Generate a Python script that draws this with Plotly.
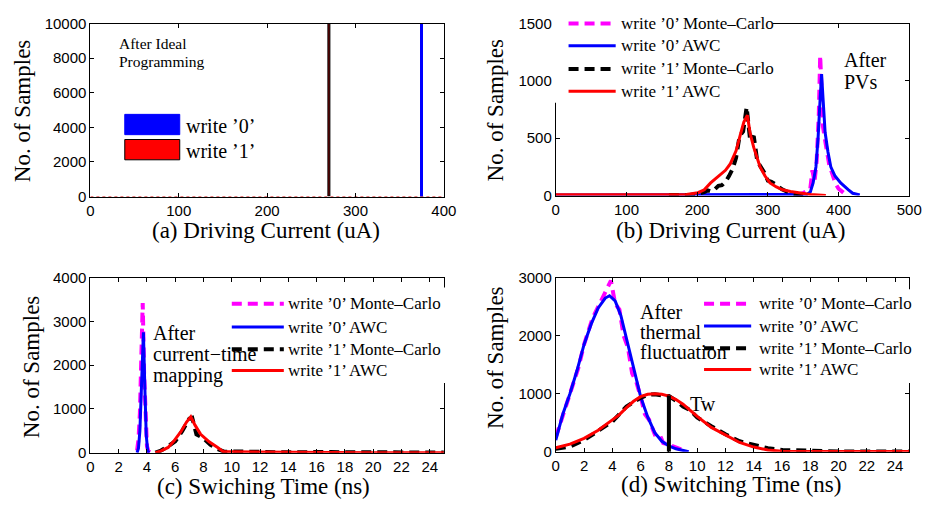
import plotly.graph_objects as go

W, H = 936, 510
SERIF = "Liberation Serif"
SANS = "Liberation Sans"

# ---------------- data ----------------
# (a) after ideal programming: histogram spikes
a_write0_x = [375]
a_write0_count = [10000]
a_write1_x = [270]
a_write1_count = [10000]
a_zero_x = [0, 400]
a_zero_y = [0, 0]

# (b) after PVs (driving current, uA)
b_mc0_x = [340, 345, 350, 355, 360, 363, 366, 369, 372, 374, 376, 378, 381, 384, 387, 390, 393, 396, 400, 405, 410]
b_mc0_y = [5, 10, 20, 40, 60, 220, 120, 300, 700, 1220, 900, 600, 480, 350, 260, 210, 150, 100, 60, 30, 10]
b_awc0_x = [0, 100, 200, 300, 340, 355, 360, 364, 368, 371, 374, 376, 378, 381, 385, 389, 395, 403, 414, 420, 430]
b_awc0_y = [5, 5, 5, 5, 5, 10, 30, 110, 250, 500, 850, 1060, 850, 550, 380, 250, 170, 110, 50, 20, 5]
b_mc1_x = [160, 170, 180, 190, 200, 205, 210, 215, 220, 225, 230, 235, 240, 245, 250, 255, 260, 265, 270, 275, 280, 285, 290, 295, 300, 305, 310, 315, 320, 325, 330, 335, 340, 345, 350]
b_mc1_y = [5, 3, 8, 5, 15, 20, 30, 45, 35, 55, 85, 90, 120, 170, 230, 330, 520, 560, 770, 480, 520, 300, 250, 200, 130, 120, 100, 75, 55, 40, 25, 15, 10, 5, 2]
b_awc1_x = [0, 100, 150, 185, 201, 210, 219, 230, 240, 247, 255, 261, 266, 271, 275, 280, 289, 296, 303, 312, 321, 332, 344, 360, 382]
b_awc1_y = [8, 8, 8, 10, 25, 50, 110, 170, 220, 278, 390, 530, 640, 700, 540, 420, 250, 170, 110, 75, 50, 35, 25, 10, 0]

# (c) after current-time mapping (switching time, ns)
c_mc0_x = [3.3, 3.4, 3.5, 3.6, 3.7, 3.8, 3.9, 4.0, 4.1, 4.2, 4.3]
c_mc0_y = [50, 300, 900, 2000, 3420, 1800, 600, 150, 30, 10, 0]
c_awc0_x = [3.3, 3.4, 3.5, 3.6, 3.75, 3.85, 3.95, 4.05, 4.15]
c_awc0_y = [0, 100, 500, 1600, 2750, 1500, 400, 50, 0]
c_mc1_x = [4.6, 5.0, 5.5, 6.0, 6.5, 7.0, 7.2, 7.5, 8.0, 8.5, 9.0, 9.5, 10, 11, 12, 13, 14, 15, 16, 17, 18, 19, 20, 21, 22, 23, 24, 25]
c_mc1_y = [0, 50, 150, 260, 500, 780, 800, 420, 330, 180, 80, 20, 30, 15, 20, 10, 15, 10, 10, 15, 10, 10, 15, 10, 10, 15, 10, 5]
c_awc1_x = [4.6, 5.0, 5.5, 5.9, 6.4, 6.8, 7.1, 7.4, 7.8, 8.4, 9.0, 9.4, 10, 12, 15, 15.3, 20, 25]
c_awc1_y = [0, 40, 120, 265, 480, 700, 820, 630, 420, 250, 120, 25, 20, 15, 15, 0, 0, 0]

# (d) after thermal fluctuation (switching time, ns)
d_mc0_x = [0, 0.3, 0.6, 1.0, 1.3, 1.6, 2.0, 2.3, 2.6, 3.0, 3.3, 3.6, 3.9, 4.2, 4.5, 4.8, 5.1, 5.4, 5.7, 6.0, 6.3, 6.6, 7.0, 7.3, 7.6, 8.0, 8.4, 8.8, 9.2]
d_mc0_y = [250, 450, 700, 1000, 1250, 1450, 1850, 2050, 2300, 2500, 2650, 2800, 2950, 2550, 2450, 2000, 1800, 1350, 1200, 950, 650, 550, 300, 320, 150, 120, 80, 40, 10]
d_awc0_x = [0, 0.5, 1.0, 1.5, 2.0, 2.5, 3.0, 3.5, 3.8, 4.2, 4.6, 5.0, 5.5, 6.0, 6.5, 7.0, 7.5, 8.0, 8.5, 9.0, 9.4]
d_awc0_y = [200, 650, 1000, 1400, 1850, 2200, 2480, 2650, 2690, 2600, 2350, 1950, 1450, 950, 600, 330, 180, 100, 50, 20, 0]
d_mc1_x = [0, 1, 2, 3, 4, 5, 6, 6.5, 7, 7.5, 8, 8.5, 9, 9.5, 10, 11, 12, 13, 14, 15, 16, 17, 18, 19, 20, 21, 22, 23, 24, 25]
d_mc1_y = [50, 90, 200, 350, 520, 780, 930, 980, 990, 970, 960, 880, 780, 720, 590, 440, 300, 180, 120, 60, 30, 20, 10, 10, 5, 5, 5, 0, 5, 5]
d_awc1_x = [0, 1, 2, 3, 4, 4.5, 5, 5.5, 6, 6.5, 7, 7.5, 8, 8.5, 9, 9.5, 10, 11, 12, 13, 14, 15, 16, 18, 20, 22, 25]
d_awc1_y = [70, 130, 230, 370, 550, 640, 760, 870, 950, 990, 1000, 990, 960, 900, 820, 710, 610, 420, 290, 160, 80, 30, 10, 5, 5, 5, 5]
tw_x = [8, 8]
tw_y = [0, 970]

legend_labels = ["write \u20190\u2019 Monte\u2013Carlo", "write \u20190\u2019 AWC",
                 "write \u20191\u2019 Monte\u2013Carlo", "write \u20191\u2019 AWC"]

# ---------------- helpers ----------------
def px(x):
    return x / W

def py(y):
    return 1 - y / H

MAG = dict(color="#ff00ff", width=4, dash="10px,6px")
BLU = dict(color="#0000ff", width=3)
BLK = dict(color="black", width=4, dash="10px,6px")
RED = dict(color="#ff0000", width=3)
styles = [MAG, BLU, BLK, RED]

fig = go.Figure()

# (a)
fig.add_trace(go.Scatter(x=a_zero_x, y=a_zero_y, mode="lines", xaxis="x", yaxis="y",
                         line=dict(color="#cc0000", width=1, dash="dot"), showlegend=False))
fig.add_trace(go.Bar(x=a_write1_x, y=a_write1_count, width=2.2, xaxis="x", yaxis="y",
                     marker=dict(color="#7a0000", line=dict(color="black", width=1)), showlegend=False))
fig.add_trace(go.Bar(x=a_write0_x, y=a_write0_count, width=3, xaxis="x", yaxis="y",
                     marker=dict(color="#0000ff", line=dict(width=0)), showlegend=False))

def add_panel(ax, ay, series):
    for (xs, ys), st in zip(series, styles):
        fig.add_trace(go.Scatter(x=xs, y=ys, mode="lines", xaxis=ax, yaxis=ay,
                                 line=st, showlegend=False))

add_panel("x2", "y2", [(b_mc0_x, b_mc0_y), (b_awc0_x, b_awc0_y), (b_mc1_x, b_mc1_y), (b_awc1_x, b_awc1_y)])
add_panel("x3", "y3", [(c_mc0_x, c_mc0_y), (c_awc0_x, c_awc0_y), (c_mc1_x, c_mc1_y), (c_awc1_x, c_awc1_y)])
add_panel("x4", "y4", [(d_mc0_x, d_mc0_y), (d_awc0_x, d_awc0_y), (d_mc1_x, d_mc1_y), (d_awc1_x, d_awc1_y)])
fig.add_trace(go.Scatter(x=tw_x, y=tw_y, mode="lines", xaxis="x4", yaxis="y4",
                         line=dict(color="black", width=4), showlegend=False))

def axis(domain, rng, dtick, anchor):
    return dict(domain=domain, range=rng, dtick=dtick, tick0=0, anchor=anchor,
                showline=True, linecolor="black", linewidth=1, mirror="ticks",
                ticks="inside", ticklen=4, tickcolor="black", tickwidth=1,
                showgrid=False, zeroline=False, tickformat="d",
                tickfont=dict(family=SANS, size=15, color="black"), fixedrange=True)

fig.update_layout(
    width=W, height=H, margin=dict(l=0, r=0, t=0, b=0),
    paper_bgcolor="white", plot_bgcolor="white", showlegend=False, bargap=0,
    xaxis=axis([px(88), px(448)], [0, 400], 100, "y"),
    yaxis=axis([py(194), py(15)], [0, 10000], 2000, "x"),
    xaxis2=axis([px(562), px(922)], [0, 500], 100, "y2"),
    yaxis2=axis([py(193), py(15)], [0, 1500], 500, "x2"),
    xaxis3=axis([px(88), px(448)], [0, 25], 2, "y3"),
    yaxis3=axis([py(459), py(278)], [0, 4000], 1000, "x3"),
    xaxis4=axis([px(562), px(922)], [0, 25], 2, "y4"),
    yaxis4=axis([py(458), py(278)], [0, 3000], 1000, "x4"),
)

shapes = []
annotations = []

def text(x, y, s, size, anchor="left", angle=0):
    annotations.append(dict(x=px(x), y=py(y), xref="paper", yref="paper", text=s,
                            showarrow=False, xanchor=anchor, yanchor="middle", textangle=angle,
                            borderpad=0,
                            font=dict(family=SERIF, size=size, color="black")))

# axis titles
text(267, 229, "(a) Driving Current (uA)", 23, "center")
text(740, 229, "(b) Driving Current (uA)", 23, "center")
text(264, 494, "(c) Swiching Time (ns)", 23, "center")
text(740, 492, "(d) Switching Time (ns)", 23, "center")
text(19, 105, "No. of Samples", 23, "center", -90)
text(501, 104, "No. of Samples", 23, "center", -90)
text(28, 370, "No. of Samples", 23, "center", -90)
text(500, 360, "No. of Samples", 23, "center", -90)

# panel annotations
text(116, 36, "After Ideal", 15.5)
text(116, 54, "Programming", 15.5)
text(855, 53, "After", 20)
text(855, 76, "PVs", 20)
text(151, 335, "After", 20)
text(151, 357, "current\u2212time", 20)
text(151, 379, "mapping", 20)
text(647, 313, "After", 20)
text(647, 334, "thermal", 20)
text(647, 355, "fluctuation", 20)
annotations.append(dict(x=9.4, y=830, xref="x4", yref="y4", text="Tw", showarrow=False,
                        xanchor="left", yanchor="middle", borderpad=0,
                        font=dict(family=SERIF, size=20, color="black")))

# legend (a)
shapes.append(dict(type="rect", xref="paper", yref="paper", x0=px(123), x1=px(179), y0=py(130), y1=py(109),
                   fillcolor="#0000ff", line=dict(color="#0000ff", width=1), layer="above"))
shapes.append(dict(type="rect", xref="paper", yref="paper", x0=px(123), x1=px(179), y0=py(156), y1=py(135),
                   fillcolor="#ff0000", line=dict(color="black", width=1), layer="above"))
text(184, 121, "write \u20190\u2019", 20)
text(184, 147, "write \u20191\u2019", 20)

# legends (b), (c), (d)
def legend(box, rows, lx0, lx1, tx):
    shapes.append(dict(type="rect", xref="paper", yref="paper", x0=px(box[0]), x1=px(box[1]),
                       y0=py(box[3]), y1=py(box[2]), fillcolor="white", line=dict(width=0), layer="above"))
    for yy, st, lab in zip(rows, styles, legend_labels):
        shapes.append(dict(type="line", xref="paper", yref="paper", x0=px(lx0), x1=px(lx1),
                           y0=py(yy), y1=py(yy), line=st, layer="above"))
        text(tx, yy, lab, 17)

legend((561, 783, 3, 97), [15, 38, 62, 85], 575, 623, 627)
legend((228, 456, 288, 387), [305, 329, 352, 374], 232, 285, 288)
legend((705, 930, 290, 387), [305, 328, 351, 373], 713, 761, 768)

fig.update_layout(shapes=shapes, annotations=annotations)
fig.write_html("out.html")
